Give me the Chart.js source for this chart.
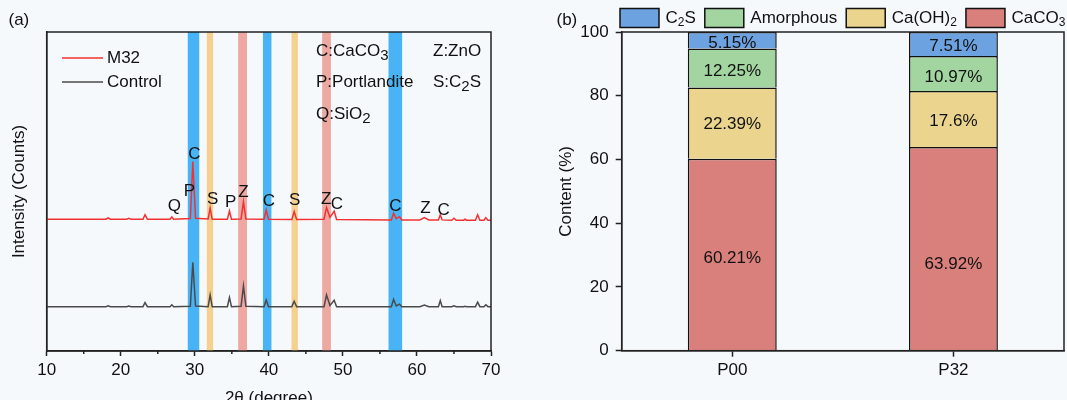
<!DOCTYPE html>
<html><head><meta charset="utf-8">
<script src="https://cdn.jsdelivr.net/npm/chart.js@4.4.0/dist/chart.umd.min.js"></script>
<style>
html,body{margin:0;padding:0;background:#f5f9fc;width:1067px;height:400px;overflow:hidden;}
#ca{position:absolute;left:0;top:0;}
#cb{position:absolute;left:540px;top:0;}
</style></head><body>
<canvas id="ca" width="540" height="400"></canvas>
<canvas id="cb" width="527" height="400"></canvas>
<script>
// ---------- Panel (a): XRD data ----------
const twoTheta = [10, 18.0, 18.3, 18.6, 20.8, 21.1, 21.4, 23.0, 23.28, 23.6,
  26.65, 26.9, 27.15, 29.4, 29.73, 30.1, 31.8, 32.07, 32.35, 34.4,
  34.68, 34.95, 36.25, 36.57, 36.9, 39.35, 39.64, 39.95, 43.1, 43.42,
  43.75, 47.45, 47.79, 48.25, 48.82, 49.15, 56.55, 56.84, 57.2, 57.65,
  57.95, 60.4, 61.0, 61.6, 62.9, 63.15, 63.4, 64.7, 65.0, 65.3,
  66.3, 66.5, 66.7, 67.9, 68.2, 68.5, 69.05, 69.3, 69.6, 70];
const intensityM32 = [41.3, 41.3, 41.7, 41.3, 41.3, 41.6, 41.3, 41.3, 42.7, 41.3,
  41.3, 42.0, 41.3, 41.5, 59.4, 41.6, 41.4, 44.8, 41.3, 41.3,
  43.9, 41.3, 41.4, 46.8, 41.4, 41.3, 44.2, 41.3, 41.2, 43.7,
  41.2, 41.3, 45.0, 41.9, 43.8, 41.2, 41.1, 43.2, 41.5, 42.1,
  41.1, 41.1, 41.8, 41.1, 41.1, 42.7, 41.1, 41.0, 41.6, 41.0,
  41.0, 41.3, 41.0, 41.0, 42.7, 41.0, 41.0, 41.8, 41.0, 41.0];
const intensityControl = [13.9, 13.9, 14.2, 13.9, 13.9, 14.1, 13.9, 13.9, 15.2, 13.9,
  13.9, 14.5, 13.9, 14.0, 27.8, 14.1, 13.9, 17.6, 13.9, 13.9,
  16.8, 13.9, 14.0, 20.4, 14.0, 13.9, 16.0, 13.9, 13.9, 15.6,
  13.9, 13.9, 17.6, 14.3, 15.9, 13.9, 13.9, 16.2, 14.1, 14.7,
  13.9, 13.9, 14.4, 13.9, 13.9, 15.8, 13.9, 13.9, 14.2, 13.9,
  13.9, 14.0, 13.9, 13.9, 15.3, 13.9, 13.9, 14.5, 13.9, 13.9];
const xMajorTicks = [10, 20, 30, 40, 50, 60, 70];
const xMinorTicks = [15, 25, 35, 45, 55, 65];
// reference phase bands (2θ ranges)
const bandPhase = ['C', 'S', 'Z', 'C', 'S', 'Z', 'C'];
const bandFrom  = [29.05, 31.62, 35.85, 39.2, 43.06, 47.2, 56.16];
const bandTo    = [30.6, 32.47, 37.05, 40.35, 43.92, 48.38, 58.0];
// peak letters (2θ, intensity)
const peakText  = ['Q', 'P', 'C', 'S', 'P', 'Z', 'C', 'S', 'Z', 'C', 'C', 'Z', 'C'];
const peakTheta = [27.25, 29.27, 29.95, 32.43, 34.86, 36.57, 40.0, 43.5, 47.74, 49.19, 57.1, 61.16, 63.6];
const peakLevel = [45.3, 50.0, 61.8, 47.4, 46.7, 49.7, 46.8, 47.2, 47.4, 46.0, 45.5, 44.8, 44.2];
const phaseKey = ['C:CaCO_3', 'P:Portlandite', 'Q:SiO_2', 'Z:ZnO', 'S:C_2S'];

// ---------- Panel (b): phase content ----------
const samples = ['P00', 'P32'];
const caco3 = [60.21, 63.92];
const caoh2 = [22.39, 17.6];
const amorphous = [12.25, 10.97];
const c2s = [5.15, 7.51];
const yTicksB = [0, 20, 40, 60, 80, 100];

const FONT = '"Liberation Sans", Arial, Helvetica, sans-serif';
Chart.defaults.font.family = FONT;
Chart.defaults.font.size = 17;
Chart.defaults.color = '#111';
const AXIS = '#222';

function richParts(str){
  const parts = [];
  for (let i = 0; i < str.length; i++){
    if (str[i] === '_'){ parts.push({t: str[i+1], sub: true}); i++; }
    else if (parts.length && !parts[parts.length-1].sub) parts[parts.length-1].t += str[i];
    else parts.push({t: str[i], sub: false});
  }
  return parts;
}
function richWidth(ctx, str, size, subSize){
  let w = 0;
  richParts(str).forEach(p => { ctx.font = (p.sub ? subSize : size) + 'px ' + FONT; w += ctx.measureText(p.t).width; });
  return w;
}
function drawRich(ctx, str, x, y, size, subSize, subDrop, align){
  const w = richWidth(ctx, str, size, subSize);
  let cx = align === 'center' ? x - w/2 : x;
  ctx.textAlign = 'left'; ctx.textBaseline = 'middle'; ctx.fillStyle = '#111';
  richParts(str).forEach(p => {
    ctx.font = (p.sub ? subSize : size) + 'px ' + FONT;
    ctx.fillText(p.t, cx, p.sub ? y + subDrop : y);
    cx += ctx.measureText(p.t).width;
  });
  return w;
}

const bandColors = {C: '#48b4f5', S: '#f5d08e', Z: '#eea8a2'};

const xrdDecor = {
  id: 'xrdDecor',
  beforeDatasetsDraw(chart){
    const {ctx, chartArea: {top, bottom}, scales: {x}} = chart;
    ctx.save();
    bandPhase.forEach((ph, i) => {
      const x1 = x.getPixelForValue(bandFrom[i]), x2 = x.getPixelForValue(bandTo[i]);
      ctx.fillStyle = bandColors[ph];
      ctx.fillRect(x1, top, x2 - x1, bottom - top);
    });
    ctx.restore();
  },
  afterDatasetsDraw(chart){
    const {ctx, chartArea: ca, scales: {x, y}} = chart;
    ctx.save();
    ctx.strokeStyle = AXIS; ctx.lineWidth = 1.5;
    ctx.strokeRect(ca.left, ca.top, ca.right - ca.left, ca.bottom - ca.top);
    xMinorTicks.forEach(v => {
      const px = x.getPixelForValue(v);
      ctx.beginPath(); ctx.moveTo(px, ca.bottom); ctx.lineTo(px, ca.bottom + 3); ctx.stroke();
    });
    peakText.forEach((t, i) => {
      drawRich(ctx, t, x.getPixelForValue(peakTheta[i]), y.getPixelForValue(peakLevel[i]), 17, 13, 5, 'center');
    });
    chart.data.datasets.forEach((ds, i) => {
      const ly = 58 + i * 24;
      ctx.strokeStyle = ds.borderColor; ctx.lineWidth = 1.5;
      ctx.beginPath(); ctx.moveTo(62, ly); ctx.lineTo(103, ly); ctx.stroke();
      drawRich(ctx, ds.label, 107, ly, 17, 13, 5, 'left');
    });
    drawRich(ctx, phaseKey[0], 316, 51, 17, 15, 5, 'left');
    drawRich(ctx, phaseKey[1], 316, 82, 17, 15, 5, 'left');
    drawRich(ctx, phaseKey[2], 316, 114, 17, 15, 5, 'left');
    drawRich(ctx, phaseKey[3], 433, 51, 17, 15, 5, 'left');
    drawRich(ctx, phaseKey[4], 433, 82, 17, 15, 5, 'left');
    drawRich(ctx, '(a)', 8.5, 20, 17, 13, 5, 'left');
    ctx.restore();
  }
};

new Chart(document.getElementById('ca'), {
  type: 'line',
  data: {
    datasets: [
      {label: 'M32', data: twoTheta.map((t, i) => ({x: t, y: intensityM32[i]})),
       borderColor: '#f23232', borderWidth: 1.5, pointRadius: 0, tension: 0},
      {label: 'Control', data: twoTheta.map((t, i) => ({x: t, y: intensityControl[i]})),
       borderColor: '#4a4a4a', borderWidth: 1.5, pointRadius: 0, tension: 0}
    ]
  },
  options: {
    responsive: false, animation: false, devicePixelRatio: 1,
    layout: {padding: {left: 0, top: 32, right: 49, bottom: 0}},
    plugins: {legend: {display: false}, tooltip: {enabled: false}},
    scales: {
      x: {
        type: 'linear', min: 10, max: 70,
        afterBuildTicks: s => { s.ticks = xMajorTicks.map(v => ({value: v})); },
        ticks: {autoSkip: false, maxRotation: 0, padding: 4, color: '#111', font: {size: 17}},
        grid: {drawOnChartArea: false, tickLength: 5, tickWidth: 1.5, tickColor: AXIS},
        border: {color: AXIS, width: 1.5},
        title: {display: true, text: '2θ (degree)', color: '#111', font: {size: 17}, padding: {top: 0, bottom: -9}},
        afterFit: s => { s.height = 49; }
      },
      y: {
        min: 0, max: 100,
        ticks: {display: false},
        grid: {display: false},
        border: {color: AXIS, width: 1.5},
        title: {display: true, text: 'Intensity (Counts)', color: '#111', font: {size: 17}, padding: {top: 9, bottom: 0}},
        afterFit: s => { s.width = 46.7; }
      }
    }
  },
  plugins: [xrdDecor]
});

// ---------- Panel (b) ----------
const legendItems = [
  {text: 'C_2S', color: '#6da2e0'},
  {text: 'Amorphous', color: '#a2d5a0'},
  {text: 'Ca(OH)_2', color: '#ebd58e'},
  {text: 'CaCO_3', color: '#d9807c'}
];
const labelShift = [[3.5, 16], [1.6, 2.5], [3.6, 3.9], [3.5, 2.4]];

const barDecor = {
  id: 'barDecor',
  afterDatasetsDraw(chart){
    const {ctx, chartArea: ca} = chart;
    ctx.save();
    chart.data.datasets.forEach((ds, di) => {
      const meta = chart.getDatasetMeta(di);
      meta.data.forEach((el, j) => {
        const cy = (el.y + el.base) / 2 + labelShift[di][j];
        drawRich(ctx, String(ds.data[j]) + '%', el.x, cy, 17, 13, 5, 'center');
      });
    });
    ctx.strokeStyle = AXIS; ctx.lineWidth = 1.5;
    ctx.strokeRect(ca.left, ca.top, ca.right - ca.left, ca.bottom - ca.top);
    let lx = 80;
    legendItems.forEach(it => {
      ctx.fillStyle = it.color;
      ctx.fillRect(lx, 8.5, 39, 19);
      ctx.strokeStyle = '#111'; ctx.lineWidth = 1.5;
      ctx.strokeRect(lx, 8.5, 39, 19);
      const w = drawRich(ctx, it.text, lx + 45.5, 18, 17, 12, 5, 'left');
      lx += 45.5 + w + 9;
    });
    drawRich(ctx, '(b)', 16.5, 20, 17, 13, 5, 'left');
    ctx.restore();
  }
};

new Chart(document.getElementById('cb'), {
  type: 'bar',
  data: {
    labels: samples,
    datasets: [
      {label: 'CaCO3', data: caco3, backgroundColor: '#d9807c'},
      {label: 'Ca(OH)2', data: caoh2, backgroundColor: '#ebd58e'},
      {label: 'Amorphous', data: amorphous, backgroundColor: '#a2d5a0'},
      {label: 'C2S', data: c2s, backgroundColor: '#6da2e0'}
    ].map(d => Object.assign(d, {borderColor: '#111',
      borderWidth: {top: 1.5, left: 1.5, right: 1.5, bottom: 0}, borderSkipped: false,
      barPercentage: 0.402, categoryPercentage: 1}))
  },
  options: {
    responsive: false, animation: false, devicePixelRatio: 1,
    layout: {padding: {left: 0, top: 32, right: 3, bottom: 0}},
    plugins: {legend: {display: false}, tooltip: {enabled: false}},
    scales: {
      x: {
        stacked: true,
        ticks: {padding: 3, color: '#111', font: {size: 17}},
        grid: {drawOnChartArea: false, offset: false, tickLength: 6, tickWidth: 1.5, tickColor: AXIS},
        border: {color: AXIS, width: 1.5},
        afterFit: s => { s.height = 49.3; }
      },
      y: {
        stacked: true, min: 0, max: 100,
        afterBuildTicks: s => { s.ticks = yTicksB.map(v => ({value: v})); },
        ticks: {padding: 7, color: '#111', font: {size: 17}},
        grid: {drawOnChartArea: false, tickLength: 6, tickWidth: 1.5, tickColor: AXIS},
        border: {color: AXIS, width: 1.5},
        title: {display: true, text: 'Content (%)', color: '#111', font: {size: 17}, padding: {top: 16, bottom: 0}},
        afterFit: s => { s.width = 81.7; }
      }
    }
  },
  plugins: [barDecor]
});
</script>
</body></html>
